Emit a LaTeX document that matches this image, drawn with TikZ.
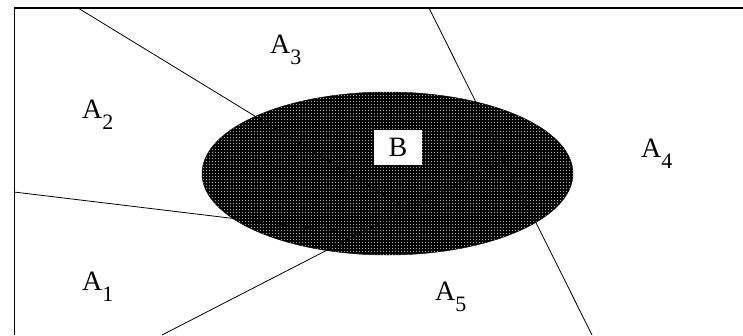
\documentclass[tikz,border=0pt]{standalone}
\usepackage{fontspec}
\setmainfont{Liberation Serif}
\usetikzlibrary{patterns}
\pgfdeclarepatternformonly{finegrid}{\pgfpointorigin}{\pgfqpoint{2.6pt}{2.6pt}}{\pgfqpoint{2.6pt}{2.6pt}}{%
  \pgfpathrectangle{\pgfpointorigin}{\pgfqpoint{1pt}{1pt}}\pgfusepath{fill}}
\tikzset{
  partline/.style={line width=0.8pt, black},
  innerline/.style={line width=0.7pt, black},
  region/.style={inner sep=0pt, anchor=base west, font=\fontsize{28}{28}\selectfont},
  bbox/.style={fill=white, draw=none, minimum width=48pt, minimum height=35pt, inner sep=0pt, font=\fontsize{28}{28}\selectfont}
}
\newcommand{\subA}[1]{A\raisebox{-11pt}{\fontsize{22}{22}\selectfont #1}}
\begin{document}
\begin{tikzpicture}[x=1pt,y=-1pt]
\useasboundingbox (0,0) rectangle (743,335);
% frame
\draw[line width=1.4pt] (743,8) -- (14,8);
\draw[line width=0.8pt] (14,8) -- (14,335);
% coordinates
\coordinate (l1a) at (78,8);
\coordinate (l2a) at (429,8);
\coordinate (l2b) at (592,335);
\coordinate (l3a) at (14,192);
\coordinate (l4a) at (162,335);
\coordinate (O) at (407,209);
\coordinate (P) at (362,234);
\coordinate (Q) at (505,160.5);
% partition lines
\draw[partline] (l1a) -- (O);
\draw[partline] (l2a) -- (l2b);
\draw[partline] (l3a) -- (P);
\draw[partline] (l4a) -- (O);
% ellipse B
\fill[black] (387.5,173.5) ellipse [x radius=185.5, y radius=81.5];
\fill[pattern=finegrid, pattern color=white!65!black] (387.5,173.5) ellipse [x radius=185.5, y radius=81.5];
\draw[line width=0.4pt, black] (387.5,173.5) ellipse [x radius=185.5, y radius=81.5];
% faint interior lines
\begin{scope}
\clip (387.5,173.5) ellipse [x radius=185.5, y radius=81.5];
\draw[innerline] (l1a) -- (O);
\draw[innerline] (l2a) -- (l2b);
\draw[innerline] (l3a) -- (P);
\draw[innerline] (l4a) -- (O) -- (Q);
\end{scope}
\node[bbox] (B) at (398,147.5) {B};
% labels
\node[region] (A3) at (270,53) {\subA{3}};
\node[region] (A2) at (82,118) {\subA{2}};
\node[region] (A4) at (641,157) {\subA{4}};
\node[region] (A1) at (82,290) {\subA{1}};
\node[region] (A5) at (435,300) {\subA{5}};
\end{tikzpicture}
\end{document}
